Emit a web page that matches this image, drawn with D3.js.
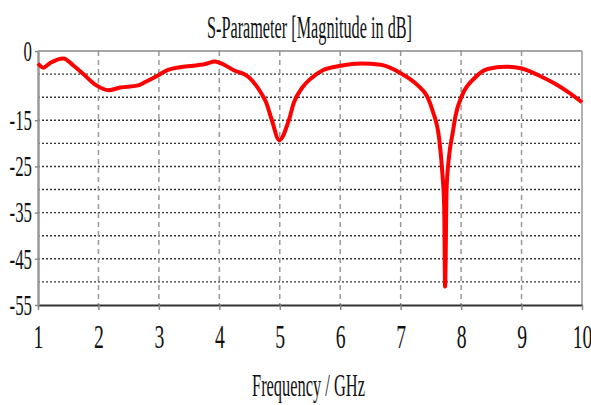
<!DOCTYPE html>
<html>
<head>
<meta charset="utf-8">
<script src="https://d3js.org/d3.v7.min.js"></script>
<style>
  body { margin: 0; background: #fff; }
  text { font-family: "Liberation Serif", "Times New Roman", serif; fill: #111; }
</style>
</head>
<body>
<div id="chart"></div>
<script>
// frequency (GHz) and |S11| (dB)
const freq = [1.00, 1.09, 1.20, 1.42, 1.59, 1.75, 1.96, 2.17, 2.36, 2.64, 2.79, 2.97, 3.15, 3.35, 3.57, 3.77, 3.93, 4.05,
  4.23, 4.48, 4.61, 4.71, 4.77, 4.87, 4.99, 5.15, 5.23, 5.38, 5.51, 5.72, 6.01, 6.34, 6.67, 7.00, 7.28, 7.44, 7.53,
  7.64, 7.69, 7.72, 7.735, 7.76, 7.80, 7.86, 7.91, 8.02, 8.22, 8.44, 8.74, 8.99, 9.27, 9.54, 9.76, 10.0];
const magDb = [-2.7, -3.6, -2.6, -1.6, -3.2, -5.0, -7.4, -8.5, -7.9, -7.5, -6.6, -5.4, -4.1, -3.5, -3.2, -2.8, -2.3, -2.8,
  -4.1, -5.6, -7.5, -9.5, -11.0, -15.0, -19.3, -15.0, -11.3, -7.8, -6.0, -4.1, -3.2, -2.7, -3.0, -4.8, -7.4, -9.9, -13.0,
  -19.3, -26.5, -33.7, -51.0, -30.0, -22.9, -17.8, -13.9, -9.5, -5.9, -3.9, -3.4, -3.75, -5.2, -7.0, -8.8, -11.1];

const xTicks = [1, 2, 3, 4, 5, 6, 7, 8, 9, 10];
const yTicks = [0, -15, -25, -35, -45, -55];
const yGrid = [-5, -10, -15, -20, -25, -30, -35, -40, -45, -50];

const W = 591, H = 405;
const margin = { top: 51, right: 9, bottom: 100, left: 38 };
const width = W - margin.left - margin.right;
const height = H - margin.top - margin.bottom;
const squeeze = 0.58; // the source font is horizontally condensed

const svg = d3.select("#chart").append("svg")
  .attr("width", W)
  .attr("height", H);

const g = svg.append("g")
  .attr("transform", "translate(" + margin.left + "," + margin.top + ")");

const x = d3.scaleLinear().domain([1, 10]).range([0, width]);
const y = d3.scaleLinear().domain([0, -55]).range([0, height]);

// grid
g.selectAll(".hgrid")
  .data(yGrid)
  .enter().append("line")
  .attr("x1", 0).attr("x2", width)
  .attr("y1", d => y(d)).attr("y2", d => y(d))
  .attr("stroke", "#333")
  .attr("stroke-width", 1.4)
  .attr("stroke-dasharray", "2,2");

g.selectAll(".vgrid")
  .data(xTicks.slice(1, -1))
  .enter().append("line")
  .attr("y1", 0).attr("y2", height)
  .attr("x1", d => x(d)).attr("x2", d => x(d))
  .attr("stroke", "#999")
  .attr("stroke-width", 1.5)
  .attr("stroke-dasharray", "5,4");

// frame
g.append("line").attr("x1", 0).attr("x2", width).attr("y1", 0).attr("y2", 0)
  .attr("stroke", "#888").attr("stroke-width", 1.5);
g.append("line").attr("x1", width).attr("x2", width).attr("y1", 0).attr("y2", height)
  .attr("stroke", "#999").attr("stroke-width", 1.5);

// axes
const xAxis = g.append("g")
  .attr("transform", "translate(0," + height + ")")
  .call(d3.axisBottom(x).tickValues(xTicks).tickSize(5).tickSizeOuter(0).tickPadding(14));
xAxis.select(".domain").attr("stroke", "#333").attr("stroke-width", 2);
xAxis.selectAll(".tick line").attr("stroke", "#888").attr("stroke-width", 1.5);
xAxis.selectAll(".tick text")
  .attr("font-size", 34)
  .attr("transform", "scale(" + squeeze + ",1)")
  .attr("fill", "#111");

const yAxis = g.append("g")
  .call(d3.axisLeft(y).tickValues(yTicks).tickSize(3).tickSizeOuter(0).tickPadding(3)
    .tickFormat(d => String(d)));
yAxis.select(".domain").attr("stroke", "#999").attr("stroke-width", 2.5);
yAxis.selectAll(".tick line").attr("stroke", "#888").attr("stroke-width", 1.5);
yAxis.selectAll(".tick text")
  .attr("font-size", 29)
  .attr("x", -6 / squeeze)
  .attr("transform", "scale(" + squeeze + ",1)")
  .attr("fill", "#111");

// curve
const pts = freq.map((f, i) => [f, magDb[i]]);
g.append("path")
  .datum(pts)
  .attr("fill", "none")
  .attr("stroke", "#ff0000")
  .attr("stroke-width", 4)
  .attr("stroke-linejoin", "round")
  .attr("d", d3.line().x(d => x(d[0])).y(d => y(d[1])).curve(d3.curveMonotoneX));

// title and axis label
svg.append("text")
  .attr("x", 207).attr("y", 38)
  .attr("font-size", 31)
  .attr("textLength", 205)
  .attr("lengthAdjust", "spacingAndGlyphs")
  .text("S-Parameter [Magnitude in dB]");

svg.append("text")
  .attr("x", 252).attr("y", 396)
  .attr("font-size", 31)
  .attr("textLength", 113)
  .attr("lengthAdjust", "spacingAndGlyphs")
  .text("Frequency / GHz");
</script>
</body>
</html>
